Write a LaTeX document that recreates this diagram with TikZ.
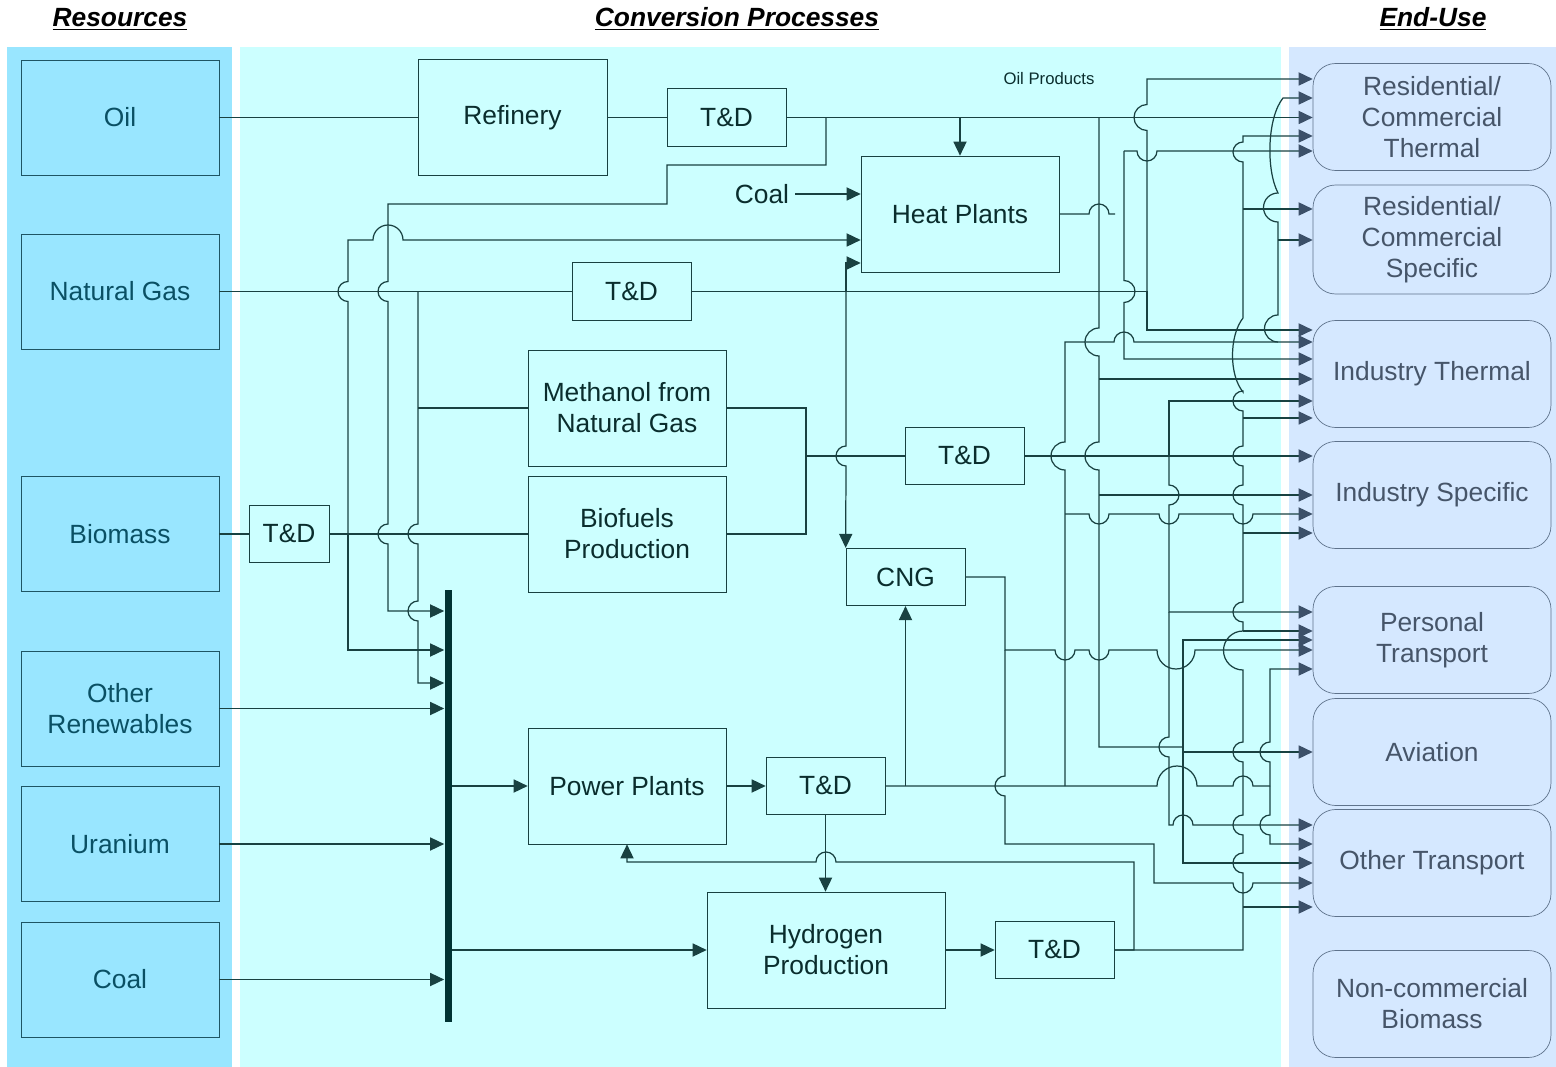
\documentclass[tikz,border=0pt]{standalone}
\usepackage{fontspec}
\setmainfont{Liberation Sans}
\usepackage{xcolor}
\definecolor{respanel}{RGB}{153,230,255}
\definecolor{convpanel}{RGB}{204,255,255}
\definecolor{usepanel}{RGB}{213,232,255}
\definecolor{resline}{RGB}{30,85,100}
\definecolor{restext}{RGB}{10,80,100}
\definecolor{procline}{RGB}{25,65,65}
\definecolor{proctext}{RGB}{10,45,45}
\definecolor{useline}{RGB}{95,115,140}
\definecolor{usetext}{RGB}{70,85,105}
\definecolor{usetip}{RGB}{60,80,105}
\definecolor{busc}{RGB}{0,51,51}
\usetikzlibrary{arrows.meta}

\begin{document}
\begin{tikzpicture}[
        x=0.02cm, y=-0.02cm,
        res/.style={draw=resline, fill=respanel, text=restext, align=center, minimum width=3.96cm, minimum height=2.3cm, font=\fontsize{15}{17.6}\selectfont},
        proc/.style={draw=procline, text=proctext, align=center, minimum width=3.96cm, minimum height=2.32cm, font=\fontsize{15}{17.6}\selectfont},
        td/.style={proc, minimum width=2.38cm, minimum height=1.15cm},
        use/.style={draw=useline, fill=usepanel, rounded corners=0.45cm, text=usetext, align=center, minimum width=4.76cm, minimum height=2.14cm, font=\fontsize{15}{17.6}\selectfont},
        title/.style={font=\fontsize{15}{18}\selectfont\bfseries\itshape},
        flow/.style={draw=procline, line width=0.7pt},
        arr/.style={flow, -{Triangle[length=8pt, width=7.5pt]}},
        euarr/.style={flow, -{Triangle[length=8pt, width=7.5pt, color=usetip]}}
    ]
        \useasboundingbox (0,0) rectangle (1556,1067);
        % panels
        \fill[respanel] (7,47) rectangle (232,1067);
        \fill[convpanel] (240,47) rectangle (1281,1067);
        \fill[usepanel] (1289,47) rectangle (1556,1067);
        \node (restitle) [title] at (120,19) {\underline{Resources}};
        \node (convtitle) [title] at (737,19) {\underline{Conversion Processes}};
        \node (usetitle) [title] at (1433,19) {\underline{End-Use}};
        % resources
        \node (oil) [res] at (120,117.5) {Oil};
        \node (gas) [res] at (120,291.5) {Natural Gas};
        \node (biomass) [res] at (120,534) {Biomass};
        \node (otherren) [res] at (120,708.5) {Other\\Renewables};
        \node (uranium) [res] at (120,844) {Uranium};
        \node (coal) [res] at (120,979.5) {Coal};
        % conversion processes
        \node (refinery) [proc, minimum width=3.78cm] at (512.5,117.5) {Refinery};
        \node (tdoil) [td] at (726.5,117.5) {T\&D};
        \node (heat) [proc] at (960,214) {Heat Plants};
        \node (coaltxt) [text=proctext, font=\fontsize{15}{18}\selectfont] at (762,194) {Coal};
        \node (oilprod) [text=proctext, font=\fontsize{9.5}{11}\selectfont] at (1049,79) {Oil Products};
        \node (tdgas) [td] at (631.5,291.5) {T\&D};
        \node (methanol) [proc] at (627,408) {Methanol from\\Natural Gas};
        \node (biofuel) [proc] at (627,534) {Biofuels\\Production};
        \node (tdbio) [td, minimum width=1.6cm] at (289,534) {T\&D};
        \node (tdliq) [td] at (964.5,456) {T\&D};
        \node (cng) [td] at (905.5,577) {CNG};
        \node (power) [proc] at (627,786) {Power Plants};
        \node (tdpower) [td] at (825.5,786) {T\&D};
        \node (hydrogen) [proc, minimum width=4.76cm] at (826,950) {Hydrogen\\Production};
        \node (tdh2) [td] at (1054.5,950) {T\&D};
        \node (bus) [fill=busc, inner sep=0pt, minimum width=0.14cm, minimum height=8.64cm] at (448,806) {};
        % end-use
        \node (rct) [use] at (1432,117) {Residential/\\Commercial\\Thermal};
        \node (rsp) [use, minimum height=2.18cm] at (1432,239.5) {Residential/\\Commercial\\Specific};
        \node (ith) [use] at (1432,374) {Industry Thermal};
        \node (isp) [use] at (1432,495) {Industry Specific};
        \node (pt) [use] at (1432,640) {Personal\\Transport};
        \node (av) [use] at (1432,752) {Aviation};
        \node (ot) [use] at (1432,863) {Other Transport};
        \node (ncb) [use] at (1432,1004) {Non-commercial\\Biomass};
        % resources to conversion
        \draw[flow] (oil) -- (refinery);
        \draw[flow] (refinery) -- (tdoil);
        \draw[flow] (gas) -- (tdgas);
        \draw[flow] (biomass) -- (tdbio);
        \draw[flow] (tdbio) -- (biofuel);
        \draw[arr] (otherren) -- (otherren -| bus.west);
        \draw[arr] (uranium) -- (uranium -| bus.west);
        \draw[arr] (coal) -- (coal -| bus.west);
        % oil products
        \draw[euarr] (tdoil) -- (tdoil -| rct.west);
        \draw[arr] (tdoil -| heat.north) -- (heat.north);
        \draw[arr] (826,117.5) -- (826,165) -- (667,165) -- (667,204) -- (388,204) -- (388,281.5) arc (90:270:0.2cm) -- (388,524) arc (90:270:0.2cm) -- (388,611) -- (bus.west |- 0,611);
        \draw[flow] (1099,117.5) -- (1099,328) arc (90:270:0.28cm) -- (1099,442) arc (90:270:0.28cm) -- (1099,747) -- (1183,747);
        \draw[euarr] (1099,379) -- (ith.west |- 0,379);
        \draw[euarr] (1099,495) -- (isp.west |- 0,495);
        \draw[euarr] (1183,747) -- (1183,640) -- (pt.west |- 0,640);
        \draw[euarr] (1183,747) -- (1183,752) -- (av.west |- 0,752);
        \draw[euarr] (1183,752) -- (1183,863) -- (ot.west |- 0,863);
        % natural gas
        \draw[flow] (tdgas) -- (1147,291.5);
        \draw[euarr] (1147,291.5) -- (1147,130.5) arc (270:90:0.26cm) -- (1147,79) -- (rct.west |- 0,79);
        \draw[euarr] (1147,291.5) -- (1147,330) -- (ith.west |- 0,330);
        \draw[arr] (846,291.5) -- (846,263) -- (heat.west |- 0,263);
        \draw[arr] (846,291.5) -- (846,446) arc (90:270:0.2cm) -- (cng.north west);
        \draw[arr] (418,291.5) -- (418,524) arc (90:270:0.2cm) -- (418,601) arc (90:270:0.2cm) -- (418,683) -- (bus.west |- 0,683);
        \draw[flow] (418,408) -- (methanol);
        % biomass
        \draw[arr] (348,534) -- (348,301.5) arc (270:90:0.2cm) -- (348,240) -- (373,240) arc (180:0:0.3cm) -- (heat.west |- 0,240);
        \draw[arr] (348,534) -- (348,650) -- (bus.west |- 0,650);
        % heat
        \draw[arr] (coaltxt) -- (coaltxt -| heat.west);
        \draw[flow] (heat) -- (1089,214) arc (180:0:0.2cm) -- (1115,214);
        \draw[euarr] (1124,151) -- (1137,151) arc (180:360:0.2cm) -- (rct.west |- 0,151);
        \draw[euarr] (1124,151) -- (1124,280.5) arc (90:-90:0.22cm) -- (1124,359) -- (ith.west |- 0,359);
        % methanol and biofuels
        \draw[flow] (methanol) -- (806,408) -- (806,534) -- (biofuel);
        \draw[flow] (806,456) -- (tdliq);
        \draw[euarr] (tdliq) -- (tdliq -| isp.west);
        \draw[euarr] (1169,456) -- (1169,401) -- (ith.west |- 0,401);
        \draw[euarr] (1169,456) -- (1169,485) arc (90:-90:0.2cm) -- (1169,612) -- (pt.west |- 0,612);
        \draw[euarr] (1169,612) -- (1169,737) arc (90:270:0.2cm) -- (1169,825) -- (1173,825) arc (180:0:0.2cm) -- (ot.west |- 0,825);
        % cng
        \draw[euarr] (cng) -- (1005,577) -- (1005,650) -- (1055,650) arc (180:360:0.2cm) -- (1089,650) arc (180:360:0.2cm) -- (1157,650) arc (180:360:0.38cm) -- (pt.west |- 0,650);
        \draw[euarr] (1005,650) -- (1005,776) arc (90:270:0.2cm) -- (1005,844) -- (1154,844) -- (1154,883) -- (1233,883) arc (180:360:0.2cm) -- (ot.west |- 0,883);
        % electricity
        \draw[arr] (bus.east |- power) -- (power);
        \draw[arr] (power) -- (tdpower);
        \draw[arr] (tdpower) -- (tdpower |- hydrogen.north);
        \draw[arr] (cng.south |- tdpower) -- (cng.south);
        \draw[flow] (tdpower) -- (1157,786) arc (180:0:0.4cm) -- (1233,786) arc (180:0:0.2cm) -- (1270,786);
        \draw[euarr] (1065,786) -- (1065,470) arc (270:90:0.28cm) -- (1065,342) -- (1114,342) arc (180:0:0.2cm) -- (ith.west |- 0,342);
        \draw[euarr] (1065,514) -- (1089,514) arc (180:360:0.2cm) -- (1159,514) arc (180:360:0.2cm) -- (1233,514) arc (180:360:0.2cm) -- (isp.west |- 0,514);
        \draw[euarr] (1278,342) arc (270:90:0.27cm) -- (1278,222) arc (270:90:0.29cm) .. controls (1266,170) and (1267,118) .. (1283,98) -- (rct.west |- 0,98);
        \draw[euarr] (1278,240) -- (rsp.west |- 0,240);
        \draw[euarr] (1270,786) -- (1270,762) arc (270:90:0.2cm) -- (1270,669) -- (pt.west |- 0,669);
        \draw[euarr] (1270,786) -- (1270,815) arc (90:270:0.2cm) -- (1270,844) -- (ot.west |- 0,844);
        % hydrogen
        \draw[arr] (bus.east |- hydrogen) -- (hydrogen);
        \draw[arr] (hydrogen) -- (tdh2);
        \draw[arr] (tdh2) -- (1134,950) -- (1134,862) -- (836,862) arc (0:180:0.2cm) -- (627,862) -- (power.south);
        \draw[euarr] (tdh2) -- (1243,950) -- (1243,873) arc (270:90:0.2cm) -- (1243,835) arc (270:90:0.2cm) -- (1243,762) arc (270:90:0.2cm) -- (1243,670) arc (270:90:0.39cm) -- (1243,622) arc (270:90:0.2cm) -- (1243,505) arc (270:90:0.2cm) -- (1243,466) arc (270:90:0.2cm) -- (1243,411) arc (270:90:0.2cm) -- (1243,392) .. controls (1229,375) and (1229,336) .. (1243,318) -- (1243,162) arc (270:90:0.2cm) -- (1243,136) -- (rct.west |- 0,136);
        \draw[euarr] (1243,907) -- (ot.west |- 0,907);
        \draw[euarr] (1243,631) -- (pt.west |- 0,631);
        \draw[euarr] (1243,533) -- (isp.west |- 0,533);
        \draw[euarr] (1243,418) -- (ith.west |- 0,418);
        \draw[euarr] (1243,209) -- (rsp.west |- 0,209);
    \end{tikzpicture}
\end{document}
